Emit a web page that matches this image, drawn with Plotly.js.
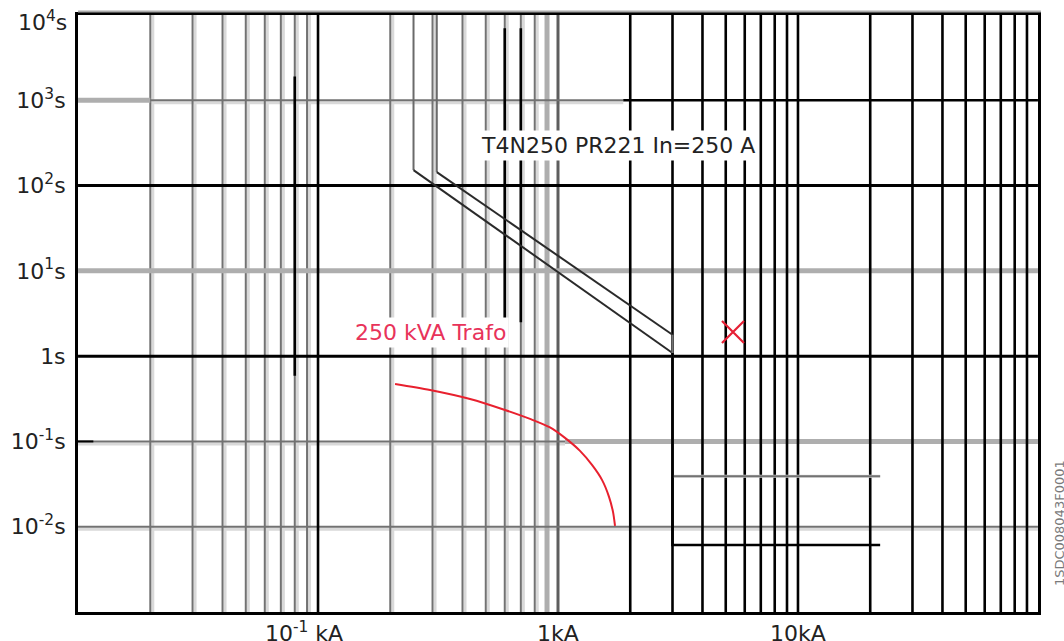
<!DOCTYPE html>
<html><head><meta charset="utf-8">
<script src="https://cdn.plot.ly/plotly-3.0.1.min.js"></script>
<style>html,body{margin:0;padding:0;background:#fff}#chart{width:1064px;height:641px}</style>
</head><body><div id="chart"></div>
<script>
// Axis extents
const currentRange = [0.01, 100];   // kA
const timeRange = [0.001, 10000];   // s

// Tick labels
const xTickVals = [0.1, 1, 10];
const xTickText = ['10<sup>-1</sup> kA\u00A0\u00A0\u00A0\u00A0', '1kA', '10kA'];
const yTickVals = [0.01, 0.1, 1, 10, 100, 1000];
const yTickText = ['10<sup>-2</sup>s','10<sup>-1</sup>s','1s','10<sup>1</sup>s','10<sup>2</sup>s','10<sup>3</sup>s'];
const yTopTickVal = 10000;
const yTopTickText = '10<sup>4</sup>s';

// Vertical grid (kA)
const gridIGray = [0.02,0.03,0.04,0.05,0.06,0.07,0.08,0.09,0.2,0.3,0.4,0.5,0.6,0.7,0.8];
const gridILight = [0.9];
const gridIDecade1 = [1];
const gridIBlack = [0.1,2,3,4,5,6,7,8,9,10,20,30,40,50,60,70,80,90];
// Horizontal grid (s)
const gridTBlack = [100, 1];
const gridTLight = [10];
const gridTGray = [0.01];
const gridT1000 = [1000];
const gridT01 = [0.1];
const grid1000SplitI = 1.87;  // 10^3 s line: gray left of this, black right
const grid01SplitI = 1.07;    // 10^-1 s line: thin gray left, thick gray right

// Extra black segments on some verticals
const segI = [0.08, 0.6, 0.7];
const segT0 = [1900, 7000, 7000];
const segT1 = [0.59, 2.6, 2.5];

// Breaker T4N250 PR221 In=250 A band
const cbLowI = [0.25, 0.25, 3, 3, 22];
const cbLowT = [10000, 152, 1.09, 0.0061, 0.0061];
const cbHighI = [0.3125, 0.3125, 3, 3, 22];
const cbHighT = [10000, 144, 1.78, 0.039, 0.039];

// 250 kVA transformer inrush curve
const trafoI = [0.2094, 0.2929, 0.4300, 0.6013, 0.7647, 0.9261, 1.0695, 1.2351, 1.3857, 1.5253, 1.6315, 1.6953, 1.7282];
const trafoT = [0.4721, 0.4016, 0.3148, 0.2340, 0.1836, 0.1459, 0.1099, 0.0774, 0.0530, 0.0354, 0.0224, 0.0149, 0.0102];

// Short-circuit marker
const markI = [5.36];
const markT = [1.92];

// Labels
const cbLabel = 'T4N250 PR221 In=250 A';
const cbLabelPos = [1.78, 299];
const trafoLabel = '250 kVA Trafo';
const trafoLabelPos = [0.293, 1.87];
const sideCode = '1SDC008043F0001';

// ---- styling helpers ----
const FONT = 'DejaVu Sans, Arial, sans-serif';
const pxX = Math.pow(10, 1/240);   // one pixel along current axis
const pxY = Math.pow(10, 1/85.3);  // one pixel along time axis

function vlines(xs, t0, t1, color, width, shift) {
  const x = [], y = [];
  xs.forEach(v => { const vv = v * Math.pow(pxX, shift || 0); x.push(vv, vv, null); y.push(t0, t1, null); });
  return {type:'scatter', mode:'lines', x, y, line:{color, width}, hoverinfo:'skip', showlegend:false};
}
function hlines(ts, i0, i1, color, width, shift) {
  const x = [], y = [];
  ts.forEach(v => { const vv = v / Math.pow(pxY, shift || 0); x.push(i0, i1, null); y.push(vv, vv, null); });
  return {type:'scatter', mode:'lines', x, y, line:{color, width}, hoverinfo:'skip', showlegend:false};
}
function segs(xs, t0s, t1s, color, width) {
  const x = [], y = [];
  xs.forEach((v, i) => { x.push(v, v, null); y.push(t0s[i], t1s[i], null); });
  return {type:'scatter', mode:'lines', x, y, line:{color, width}, hoverinfo:'skip', showlegend:false};
}
function path(xs, ys, from, to, color, width) {
  return {type:'scatter', mode:'lines', x: xs.slice(from, to + 1), y: ys.slice(from, to + 1),
          line:{color, width}, hoverinfo:'skip', showlegend:false};
}

const [I0, I1] = currentRange;
const [T0, T1] = timeRange;
const LIGHT = '#d9d9d9', GRAY = '#727272', MID = '#aeaeae';

const traces = [
  // shadows
  vlines(gridIGray, T0, T1, LIGHT, 3, 2.5),
  hlines(gridTGray, I0, I1, LIGHT, 3, 2.5),
  hlines(gridT01, I0, grid01SplitI, LIGHT, 3, 2.5),
  hlines(gridT1000, 0.02, grid1000SplitI, LIGHT, 3, 2.5),
  // gray grid
  vlines(gridIGray, T0, T1, GRAY, 2),
  vlines(gridILight, T0, T1, MID, 5),
  vlines(gridIDecade1, T0, T1, '#5e5e5e', 3),
  hlines(gridTLight, I0, I1, MID, 5),
  hlines(gridTGray, I0, I1, GRAY, 2),
  hlines(gridT01, I0, grid01SplitI, GRAY, 2),
  hlines(gridT01, grid01SplitI, I1, MID, 5),
  hlines(gridT1000, I0, 0.02, MID, 5),
  hlines(gridT1000, 0.02, grid1000SplitI, GRAY, 2),
  // black grid
  hlines(gridT1000, grid1000SplitI, I1, '#000', 2.5),
  hlines(gridTBlack, I0, I1, '#000', 3),
  vlines(gridIBlack, T0, T1, '#000', 2.6),
  segs(segI, segT0, segT1, '#000', 2.6),
  // breaker band
  path(cbLowI, cbLowT, 0, 1, '#6a6a6a', 2),
  path(cbHighI, cbHighT, 0, 1, '#6a6a6a', 2),
  path(cbLowI, cbLowT, 1, 2, '#2a2a2a', 2),
  path(cbHighI, cbHighT, 1, 2, '#2a2a2a', 2),
  path(cbHighI, cbHighT, 3, 4, LIGHT, 3),
  path(cbHighI, cbHighT, 2, 4, GRAY, 2),
  path(cbLowI, cbLowT, 2, 4, '#000', 2.6),
  // transformer curve
  {type:'scatter', mode:'lines', x: trafoI, y: trafoT, line:{color:'#e8202e', width:2, shape:'spline', smoothing:0.8},
   hoverinfo:'skip', showlegend:false},
  // marker
  {type:'scatter', mode:'markers', x: markI, y: markT,
   marker:{symbol:'x-thin-open', size:22, color:'#e62035', line:{color:'#e62035', width:2.2}}, hoverinfo:'skip', showlegend:false}
];

const tickFont = {family: FONT, size: 22, color: '#222'};
const yFrac = t => (Math.log10(t) - Math.log10(T0)) / (Math.log10(T1) - Math.log10(T0));
const layout = {
  width: 1064, height: 641,
  margin: {l: 78, r: 26, t: 15, b: 29, pad: 0},
  paper_bgcolor: '#fff', plot_bgcolor: '#fff',
  showlegend: false,
  xaxis: {type:'log', range:[Math.log10(I0) - 0.0002, Math.log10(I1) + 0.0002], showgrid:false, zeroline:false,
          showline:true, mirror:true, linecolor:'#000', linewidth:3, ticklabeloverflow:'allow',
          tickmode:'array', tickvals:xTickVals, ticktext:xTickText, ticks:'', tickfont:tickFont},
  yaxis: {type:'log', range:[Math.log10(T0) - 0.0005, Math.log10(T1) + 0.0005], showgrid:false, zeroline:false,
          showline:true, mirror:true, linecolor:'#000', linewidth:3, ticklabelstandoff:5, ticklabeloverflow:'allow',
          tickmode:'array', tickvals:yTickVals, ticktext:yTickText, ticks:'', tickfont:tickFont},
  shapes: [
    {type:'line', xref:'paper', yref:'paper', x0:0, x1:1.003, y0:1.006, y1:1.006, line:{color:'#aaa', width:2}},
    {type:'line', xref:'paper', yref:'paper', x0:0, x1:0.016, y0:yFrac(gridT01[0]), y1:yFrac(gridT01[0]), line:{color:'#000', width:2}}
  ],
  annotations: [
    {x: 0, y: Math.log10(yTopTickVal), xref:'paper', yref:'y', xanchor:'right', yanchor:'middle', xshift:-9, yshift:-6,
     text: yTopTickText, showarrow:false, font: tickFont},
    {x: Math.log10(cbLabelPos[0]), y: Math.log10(cbLabelPos[1]), xref:'x', yref:'y', text: cbLabel, showarrow:false,
     font:{family: FONT, size: 22, color:'#222'}, bgcolor:'#fff', borderpad:2},
    {x: Math.log10(trafoLabelPos[0]), y: Math.log10(trafoLabelPos[1]), xref:'x', yref:'y', text: trafoLabel, showarrow:false,
     font:{family: FONT, size: 22, color:'#e8335a'}, bgcolor:'#fff', borderpad:2},
    {x: 1.0219, y: 0.149, xref:'paper', yref:'paper', xanchor:'center', yanchor:'middle', text: sideCode, showarrow:false, textangle:-90,
     font:{family: FONT, size: 13, color:'#7a7a7a'}}
  ]
};

Plotly.newPlot('chart', traces, layout, {staticPlot: true, displayModeBar: false});
</script>
</body></html>
